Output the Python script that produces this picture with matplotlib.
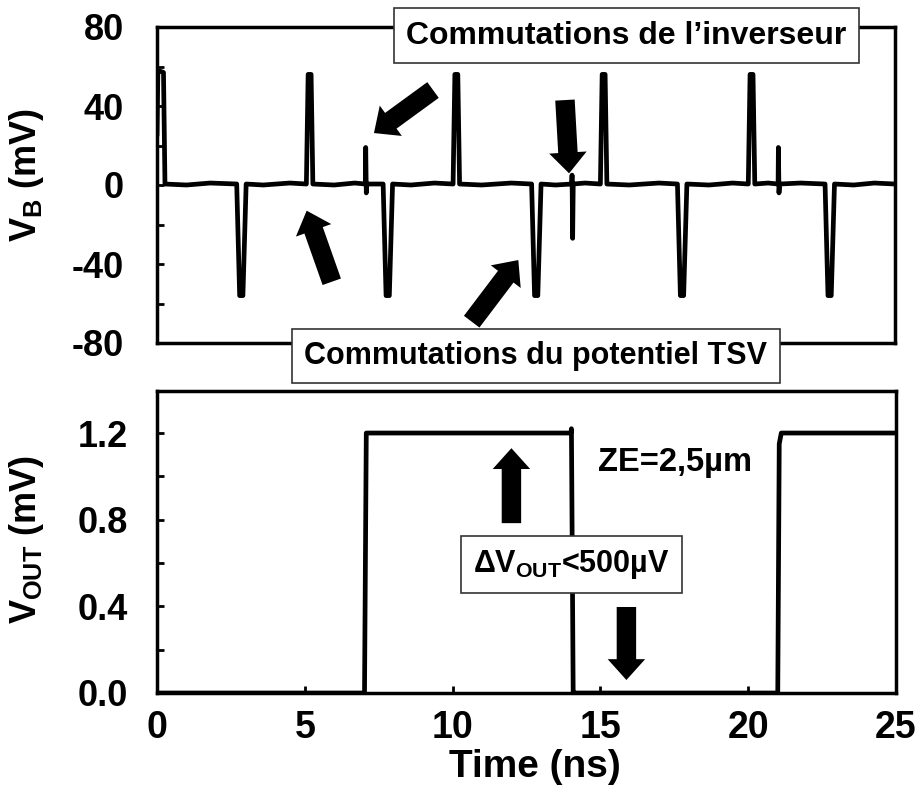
import matplotlib
matplotlib.use('Agg')
import matplotlib.pyplot as plt
from matplotlib.ticker import MultipleLocator
from matplotlib.patches import ArrowStyle

plt.rcParams['font.family'] = ['Liberation Sans', 'DejaVu Sans']
plt.rcParams['font.weight'] = 'bold'
plt.rcParams['axes.unicode_minus'] = False
plt.rcParams['mathtext.fontset'] = 'custom'
plt.rcParams['mathtext.rm'] = 'Liberation Sans:bold'
plt.rcParams['mathtext.it'] = 'Liberation Sans:bold'
plt.rcParams['mathtext.bf'] = 'Liberation Sans:bold'

# ---------------- data ----------------
vb_time = [0.00, 0.03, 0.22, 0.27, 1.0, 1.8,
           2.70, 2.80, 2.91, 3.02, 3.6, 4.5,
           5.06, 5.12, 5.22, 5.28, 6.0, 6.7,
           7.06, 7.07, 7.09, 7.11,
           7.66, 7.76, 7.87, 7.98, 8.6, 9.4,
           10.03, 10.09, 10.19, 10.25, 11.0, 12.0,
           12.69, 12.79, 12.90, 13.01, 13.5,
           14.05, 14.06, 14.08, 14.10, 14.5,
           15.02, 15.08, 15.18, 15.24, 16.0, 17.0,
           17.63, 17.73, 17.84, 17.95, 18.7, 19.5,
           20.03, 20.09, 20.19, 20.25, 20.7,
           21.04, 21.05, 21.07, 21.09, 21.8,
           22.63, 22.73, 22.84, 22.95, 23.6, 24.3, 25.0]
vb_mv = [25.0, 58.0, 57.0, 0.5, 0.0, 1.0,
         0.5, -56.0, -56.0, 0.5, 0.0, 1.0,
         0.5, 56.0, 56.0, 0.5, 0.0, 1.0,
         0.5, 19.0, -4.0, 0.5,
         0.5, -56.0, -56.0, 0.5, 0.0, 1.0,
         0.5, 56.0, 56.0, 0.5, 0.0, 1.0,
         0.5, -56.0, -56.0, 0.5, 0.0,
         0.5, 5.0, -27.0, 0.5, 1.0,
         0.5, 56.0, 56.0, 0.5, 0.0, 1.0,
         0.5, -56.0, -56.0, 0.5, 0.0, 1.0,
         0.5, 56.0, 56.0, 0.5, 1.0,
         0.5, 19.0, -4.0, 0.5, 1.0,
         0.5, -56.0, -56.0, 0.5, 0.0, 1.0, 0.5]

vout_time = [0.0, 7.02, 7.08, 14.0, 14.02, 14.08, 14.12, 21.0, 21.05, 21.12, 25.0]
vout_mv = [0.0, 0.0, 1.2, 1.2, 1.22, -0.02, 0.0, 0.0, 1.15, 1.2, 1.2]

vb_ticks = [-80, -40, 0, 40, 80]
vout_ticks = [0.0, 0.4, 0.8, 1.2]
time_ticks = [0, 5, 10, 15, 20, 25]

# ---------------- figure ----------------
W, H = 924, 791
fig = plt.figure(figsize=(W / 100, H / 100), dpi=100)


def fx(px):
    return px / W


def fy(py):
    return 1 - py / H


ax1 = fig.add_axes([fx(157), fy(343), fx(895 - 157), (343 - 27) / H])
ax2 = fig.add_axes([fx(157), fy(693), fx(896 - 157), (693 - 391) / H])

LW = 3.4
ax1.plot(vb_time, vb_mv, color='black', lw=LW, solid_joinstyle='round',
         solid_capstyle='round')
ax2.plot(vout_time, vout_mv, color='black', lw=LW, solid_joinstyle='round',
         solid_capstyle='round')

ax1.set_xlim(0, 25)
ax1.set_ylim(-80, 80)
ax2.set_xlim(0, 25)
ax2.set_ylim(0, 1.394)

for ax in (ax1, ax2):
    for s in ax.spines.values():
        s.set_linewidth(2.5)

ax1.set_yticks(vb_ticks)
ax1.yaxis.set_minor_locator(MultipleLocator(20))
ax1.tick_params(axis='x', which='both', length=0, labelbottom=False)
ax1.tick_params(axis='y', which='both', direction='in', length=5, width=2,
                labelsize=26, pad=24)

ax2.set_yticks(vout_ticks)
ax2.set_yticklabels([f'{v:.1f}' for v in vout_ticks])
ax2.yaxis.set_minor_locator(MultipleLocator(0.2))
ax2.set_xticks(time_ticks)
ax2.tick_params(axis='y', which='both', direction='in', length=5, width=2,
                labelsize=26, pad=21)
ax2.tick_params(axis='x', which='both', direction='in', length=5, width=2,
                labelsize=27, pad=12)

ax1.set_ylabel('$V_{B}$ (mV)', fontsize=26, fontweight='bold')
ax1.yaxis.set_label_coords(-0.15, 0.53)
ax2.set_ylabel('$V_{OUT}$ (mV)', fontsize=26, fontweight='bold')
ax2.yaxis.set_label_coords(-0.15, 0.507)
ax2.set_xlabel('Time (ns)', fontsize=28, fontweight='bold')
ax2.xaxis.set_label_coords(0.511, -0.185)

# ---------------- annotations ----------------
box = dict(boxstyle='square,pad=0.4', facecolor='white', edgecolor='#333333',
           linewidth=1.2)
fig.text(fx(626.5), fy(35.5), 'Commutations de l\u2019inverseur', fontsize=23,
         fontweight='bold', ha='center', va='center', bbox=box, zorder=10)
fig.text(fx(536), fy(356), 'Commutations du potentiel TSV', fontsize=22,
         fontweight='bold', ha='center', va='center', bbox=box, zorder=10)
fig.text(fx(571.5), fy(564.5), '$\u0394V_{OUT}$<500\u00b5V', fontsize=22,
         fontweight='bold', ha='center', va='center', bbox=box, zorder=10)
fig.text(fx(675), fy(462), 'ZE=2,5\u00b5m', fontsize=23.5, fontweight='bold',
         ha='center', va='center', zorder=10)

style = ArrowStyle.Simple(head_length=0.75, head_width=1.35, tail_width=0.7)
arrow_kw = dict(arrowstyle=style, mutation_scale=20, facecolor='black',
                edgecolor='black', shrinkA=0, shrinkB=0, lw=0)

top_arrows = [((9.35, 48.1), (7.35, 26.3)),
              ((5.92, -49.0), (5.07, -13.0)),
              ((10.66, -69.2), (12.24, -38.0)),
              ((13.82, 43.0), (13.96, 5.9))]
for tail, tip in top_arrows:
    ax1.annotate('', xy=tip, xytext=tail, arrowprops=arrow_kw,
                 annotation_clip=False)

bottom_arrows = [((11.99, 0.784), (11.99, 1.13)),
                 ((15.88, 0.397), (15.88, 0.06))]
for tail, tip in bottom_arrows:
    ax2.annotate('', xy=tip, xytext=tail, arrowprops=arrow_kw,
                 annotation_clip=False)

fig.savefig('out.png', dpi=100)
